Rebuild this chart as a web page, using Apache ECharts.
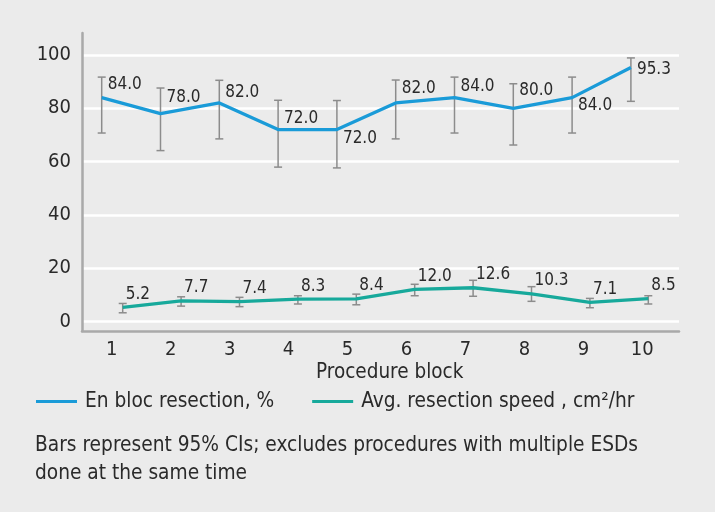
<!DOCTYPE html>
<html>
<head>
<meta charset="utf-8">
<script src="https://cdn.jsdelivr.net/npm/echarts@6/dist/echarts.min.js"></script>
<style>
  html, body { margin: 0; padding: 0; background: #ebebeb; }
  #chart { width: 715px; height: 512px; }
</style>
</head>
<body>
<div id="chart"></div>
<script>
// ---- data ----
const categories = ['1', '2', '3', '4', '5', '6', '7', '8', '9', '10'];
const enBloc = [84.0, 78.0, 82.0, 72.0, 72.0, 82.0, 84.0, 80.0, 84.0, 95.3];
const enBlocLow = [70.7, 64.1, 68.5, 57.9, 57.6, 68.5, 70.7, 66.2, 70.7, 82.6];
const enBlocHigh = [91.7, 87.6, 90.5, 83.0, 82.9, 90.6, 91.7, 89.2, 91.7, 98.9];
const speed = [5.2, 7.7, 7.4, 8.3, 8.4, 12.0, 12.6, 10.3, 7.1, 8.5];
const speedLow = [3.2, 5.7, 5.5, 6.5, 6.2, 9.6, 9.4, 7.5, 5.1, 6.5];
const speedHigh = [6.7, 9.2, 9.0, 9.6, 10.2, 13.9, 15.4, 13.0, 8.6, 9.6];
const yMin = 0, yMax = 100, yStep = 20;
const seriesNames = ['En bloc resection, %', 'Avg. resection speed , cm\u00b2/hr'];
const xAxisTitle = 'Procedure block';
const footnote = 'Bars represent 95% CIs; excludes procedures with multiple ESDs\ndone at the same time';

// ---- layout / style (not data) ----
const FONT = '"DejaVu Sans Condensed", "DejaVu Sans", sans-serif';
const TEXT = '#2a2a2a';
const BLUE = '#1a9bd8';
const TEAL = '#17a99b';
const ERR = '#8c8c8c';
const AXIS = '#a9a9a9';
const enBlocLabelDy = [-12.7, -15.7, -10.7, -11.3, 8.7, -14.3, -10.7, -17.7, 7.7, 2];
const PLOT_TOP = 55, PLOT_H = 266.3;

const chart = echarts.init(document.getElementById('chart'), null, { renderer: 'canvas' });

function errRender(params, api) {
  const x = api.value(0);
  const lo = api.coord([x, api.value(1)]);
  const hi = api.coord([x, api.value(2)]);
  const w = 4;
  const st = { stroke: ERR, lineWidth: 1.5 };
  return {
    type: 'group',
    children: [
      { type: 'line', shape: { x1: hi[0], y1: hi[1], x2: lo[0], y2: lo[1] }, style: st },
      { type: 'line', shape: { x1: hi[0] - w, y1: hi[1], x2: hi[0] + w, y2: hi[1] }, style: st },
      { type: 'line', shape: { x1: lo[0] - w, y1: lo[1], x2: lo[0] + w, y2: lo[1] }, style: st }
    ]
  };
}

const hiddenY = (g) => ({ gridIndex: g, type: 'value', min: yMin, max: yMax, show: false });
const hiddenX = (g) => ({ gridIndex: g, type: 'category', data: categories, show: false });

const option = {
  backgroundColor: '#ebebeb',
  animation: false,
  textStyle: { fontFamily: FONT },
  grid: [
    { left: 82, top: 33, width: 597, height: 298 },          // frame
    { left: 82, top: PLOT_TOP, width: 597, height: PLOT_H },   // value axis + gridlines
    { left: 82.2, top: PLOT_TOP, width: 589.6, height: PLOT_H },// category labels
    { left: 72.3, top: PLOT_TOP, width: 588, height: PLOT_H },  // en bloc series
    { left: 93.5, top: PLOT_TOP, width: 584, height: PLOT_H }   // speed series
  ],
  xAxis: [
    { gridIndex: 0, type: 'value', min: 0, max: 1, axisLine: { show: true, lineStyle: { color: AXIS, width: 2.5 } },
      axisTick: { show: false }, axisLabel: { show: false }, splitLine: { show: false } },
    { gridIndex: 1, type: 'category', data: categories, show: false },
    { gridIndex: 2, type: 'category', data: categories, axisLine: { show: false }, axisTick: { show: false },
      axisLabel: { color: TEXT, fontSize: 20, fontFamily: FONT, margin: 18 }, splitLine: { show: false } },
    hiddenX(3),
    hiddenX(4)
  ],
  yAxis: [
    { gridIndex: 0, type: 'value', min: 0, max: 1, axisLine: { show: true, lineStyle: { color: AXIS, width: 2.5 } },
      axisTick: { show: false }, axisLabel: { show: false }, splitLine: { show: false } },
    { gridIndex: 1, type: 'value', min: yMin, max: yMax, interval: yStep,
      axisLine: { show: false }, axisTick: { show: false },
      axisLabel: { color: TEXT, fontSize: 20, fontFamily: FONT, margin: 11 },
      splitLine: { show: true, lineStyle: { color: '#ffffff', width: 2.5 } } },
    hiddenY(2),
    hiddenY(3),
    hiddenY(4)
  ],
  legend: {
    left: 31, top: 386,
    icon: 'rect', itemWidth: 41, itemHeight: 3, itemGap: 38,
    textStyle: { color: TEXT, fontSize: 20.7, fontFamily: FONT, padding: [0, 0, 0, 3] },
    data: seriesNames
  },
  title: [
    { text: xAxisTitle, left: 384.7, top: 357, textAlign: 'center',
      textStyle: { color: TEXT, fontSize: 20.5, fontWeight: 'normal', fontFamily: FONT } },
    { text: footnote, left: 30, top: 426,
      textStyle: { color: TEXT, fontSize: 20.7, fontWeight: 'normal', fontFamily: FONT, lineHeight: 28.4 } }
  ],
  series: [
    {
      name: seriesNames[0], type: 'line', xAxisIndex: 3, yAxisIndex: 3, z: 5,
      symbol: 'circle', symbolSize: 0, showSymbol: true,
      lineStyle: { color: BLUE, width: 3.3 }, itemStyle: { color: BLUE },
      data: enBloc.map((v, i) => ({
        value: v,
        label: { show: true, position: 'right', distance: 6, offset: [0, enBlocLabelDy[i]] }
      })),
      label: { show: true, color: TEXT, fontSize: 17, fontFamily: FONT,
        formatter: (p) => Number(p.value).toFixed(1) }
    },
    {
      name: seriesNames[1], type: 'line', xAxisIndex: 4, yAxisIndex: 4, z: 5,
      symbol: 'circle', symbolSize: 0, showSymbol: true,
      lineStyle: { color: TEAL, width: 3.3 }, itemStyle: { color: TEAL },
      data: speed,
      label: { show: true, position: 'right', distance: 3, offset: [0, -13], color: TEXT, fontSize: 17, fontFamily: FONT,
        formatter: (p) => Number(p.value).toFixed(1) }
    },
    {
      type: 'custom', xAxisIndex: 3, yAxisIndex: 3, z: 3, renderItem: errRender,
      encode: { x: 0, y: [1, 2] },
      data: enBloc.map((_, i) => [i, enBlocLow[i], enBlocHigh[i]])
    },
    {
      type: 'custom', xAxisIndex: 4, yAxisIndex: 4, z: 3, renderItem: errRender,
      encode: { x: 0, y: [1, 2] },
      data: speed.map((_, i) => [i, speedLow[i], speedHigh[i]])
    }
  ]
};
chart.setOption(option);
</script>
</body>
</html>
